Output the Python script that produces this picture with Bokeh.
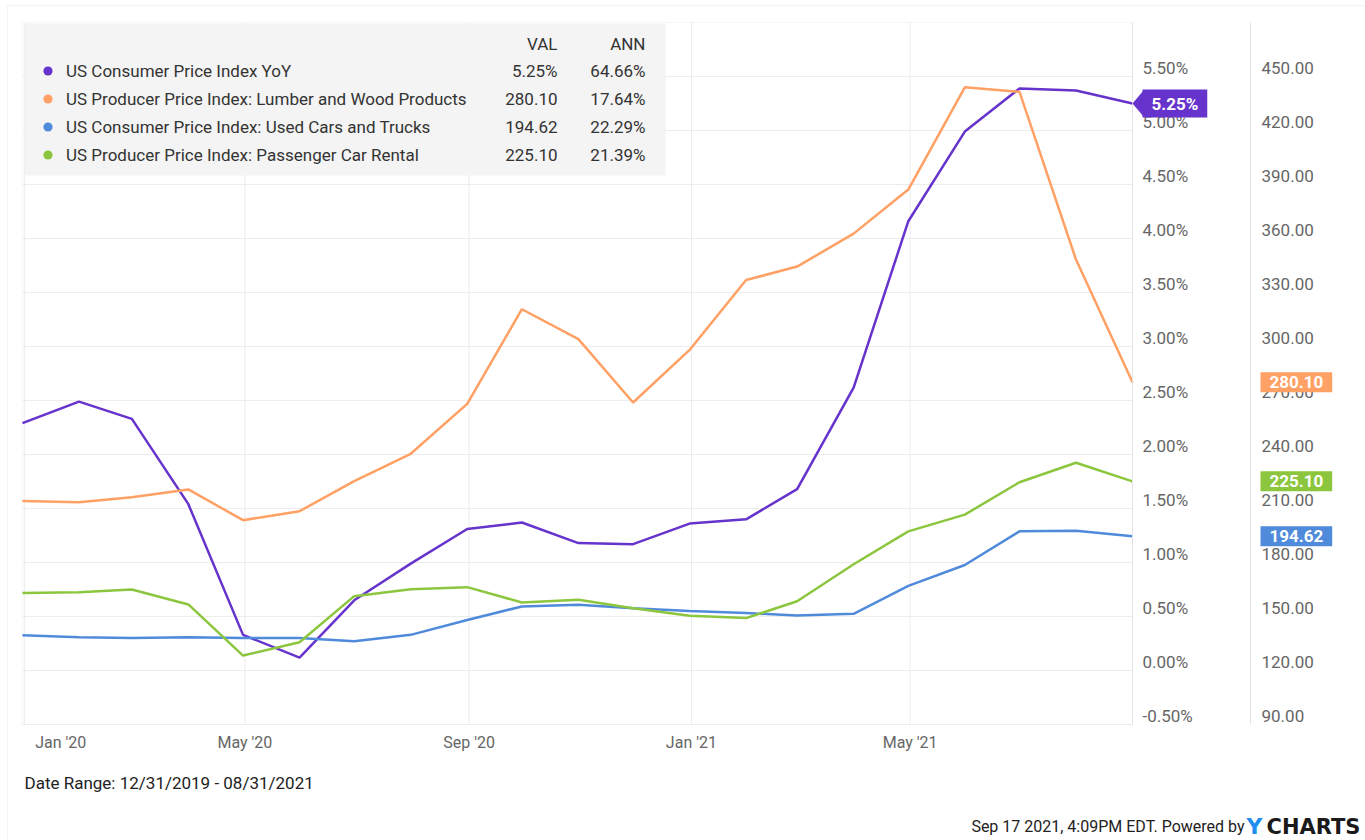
import pandas as pd
from bokeh.plotting import figure
from bokeh.models import (Range1d, LinearAxis, FixedTicker, PrintfTickFormatter, Label,
                          Legend, LegendItem, BoxAnnotation, PolyAnnotation)
from bokeh.embed import file_html
from bokeh.resources import INLINE

# ---------------- data ----------------
dates = pd.date_range("2019-12-31", periods=21, freq=pd.offsets.MonthEnd())

cpi_yoy = [2.29, 2.49, 2.33, 1.54, 0.33, 0.12, 0.65, 0.99, 1.31, 1.37, 1.18, 1.17,
           1.36, 1.40, 1.68, 2.62, 4.16, 4.99, 5.39, 5.37, 5.25]
lumber = [214.1, 213.5, 216.3, 220.6, 203.5, 208.5, 225.2, 240.4, 268.1, 320.7, 304.1, 268.9,
          298.1, 336.9, 344.4, 362.7, 387.2, 444.0, 441.5, 348.3, 280.10]
used_cars = [139.6, 138.5, 138.0, 138.5, 138.0, 138.0, 136.3, 139.8, 148.1, 155.6, 156.5, 154.6,
             153.1, 151.9, 150.6, 151.5, 167.0, 178.6, 197.3, 197.7, 194.62]
car_rental = [163.1, 163.5, 165.0, 156.7, 128.3, 135.7, 161.3, 165.2, 166.3, 157.8, 159.3, 154.6,
              150.4, 149.1, 158.5, 179.0, 197.3, 206.6, 224.6, 235.4, 225.10]

series_names = ["US Consumer Price Index YoY",
                "US Producer Price Index: Lumber and Wood Products",
                "US Consumer Price Index: Used Cars and Trucks",
                "US Producer Price Index: Passenger Car Rental"]
series_ann = ["64.66%", "17.64%", "22.29%", "21.39%"]

pct_ticks = [-0.5, 0.0, 0.5, 1.0, 1.5, 2.0, 2.5, 3.0, 3.5, 4.0, 4.5, 5.0, 5.5]
val_ticks = [90, 120, 150, 180, 210, 240, 270, 300, 330, 360, 390, 420, 450]
x_tick_dates = ["2020-01-01", "2020-05-01", "2020-09-01", "2021-01-01", "2021-05-01"]
x_tick_labels = ["Jan '20", "May '20", "Sep '20", "Jan '21", "May '21"]

date_range_text = "Date Range: 12/31/2019 - 08/31/2021"
stamp_text = "Sep 17 2021, 4:09PM EDT. Powered by"

# ---------------- style / layout (page pixels) ----------------
PURPLE, ORANGE, BLUE, GREEN = "#6633CC", "#FFA064", "#4F8ADB", "#8CC63F"
FONT = "Roboto"
AXIS_GRAY = "#666666"
TEXT_DARK = "#333333"
GRID = "#ececec"
W, H = 1365, 840
PLOT_LEFT, PLOT_TOP = 22, 22             # data area inside the canvas
PLOT_RIGHT, PLOT_BOTTOM = 1132, 724
VAL_AXIS_X = 1250
PCT_RANGE = (-0.5, 6.0)
VAL_RANGE = (90, 480)
LABEL_LIFT = 8.5                          # tick labels sit above their grid line

def sx(px):  # page x -> frame screen x
    return px
def sy(py):  # page y -> frame screen y (from bottom)
    return H - py

def to_ms(t):
    return pd.Timestamp(t).value / 1e6

x0_ms, x1_ms = to_ms(dates[0]), to_ms(dates[-1])
ms_per_px = (x1_ms - x0_ms) / (PLOT_RIGHT - PLOT_LEFT)
x_start_ms = x0_ms - PLOT_LEFT * ms_per_px
x_end_ms = x0_ms + (W - PLOT_LEFT) * ms_per_px
val_axis_ms = x0_ms + (VAL_AXIS_X - PLOT_LEFT) * ms_per_px

plot_h = PLOT_BOTTOM - PLOT_TOP
ppu_pct = plot_h / (PCT_RANGE[1] - PCT_RANGE[0])
ppu_val = plot_h / (VAL_RANGE[1] - VAL_RANGE[0])
below, above = H - PLOT_BOTTOM, PLOT_TOP
pct_full = (PCT_RANGE[0] - below / ppu_pct, PCT_RANGE[1] + above / ppu_pct)
val_full = (VAL_RANGE[0] - below / ppu_val, VAL_RANGE[1] + above / ppu_val)
s_pct, s_val = LABEL_LIFT / ppu_pct, LABEL_LIFT / ppu_val

p = figure(width=W, height=H, x_axis_type="datetime", y_axis_location="right",
           output_backend="svg", toolbar_location=None,
           x_range=Range1d(x_start_ms, x_end_ms), y_range=Range1d(*pct_full),
           min_border_left=0, min_border_top=0, min_border_right=0, min_border_bottom=0)
p.extra_y_ranges = {"val": Range1d(*val_full),
                    "pct_axis": Range1d(pct_full[0] - s_pct, pct_full[1] - s_pct),
                    "val_axis": Range1d(val_full[0] - s_val, val_full[1] - s_val)}
p.outline_line_color = None
p.background_fill_color = "white"
p.border_fill_color = "white"
p.ygrid.visible = False
p.xgrid.visible = False

# card border (top and left edges visible)
p.add_layout(BoxAnnotation(left=7, right=W + 20, top=sy(5), bottom=-20,
                           left_units="screen", right_units="screen",
                           top_units="screen", bottom_units="screen",
                           fill_alpha=0, line_color="#dcdcdc", line_width=1, level="underlay"))

# vertical grid lines (data area only)
grid_ms = [to_ms(d) for d in x_tick_dates]
p.segment(x0=grid_ms, x1=grid_ms, y0=[PCT_RANGE[0]] * len(grid_ms), y1=[PCT_RANGE[1]] * len(grid_ms),
          line_color=GRID, line_width=1)
# horizontal grid lines (data area only)
p.segment(x0=[x0_ms] * len(pct_ticks), x1=[x1_ms] * len(pct_ticks), y0=pct_ticks, y1=pct_ticks,
          line_color=GRID, line_width=1)
# plot-area border
p.add_layout(BoxAnnotation(left=x0_ms, right=x1_ms, bottom=PCT_RANGE[0], top=PCT_RANGE[1],
                           fill_alpha=0, line_color="#e3e3e3", line_width=1, level="underlay"))

# x axis: first label kept inside the plot area, as in the original
x_label_pos = [pd.Timestamp(d) for d in x_tick_dates]
x_label_pos[0] = x_label_pos[0] + pd.Timedelta(days=20)
x_ms = [int(to_ms(t)) for t in x_label_pos]
xa = p.xaxis[0]
xa.fixed_location = PCT_RANGE[0]
xa.ticker = FixedTicker(ticks=x_ms)
xa.major_label_overrides = {m: l for m, l in zip(x_ms, x_tick_labels)}
xa.axis_line_color = None
xa.major_tick_line_color = None
xa.minor_tick_line_color = None
xa.major_tick_out = 0
xa.major_tick_in = 0
xa.major_label_standoff = 8
xa.major_label_text_font = FONT
xa.major_label_text_font_size = "16px"
xa.major_label_text_color = AXIS_GRAY

def style_y(ax, standoff, bounds):
    ax.axis_line_color = "#e3e3e3"
    ax.major_tick_line_color = None
    ax.minor_tick_line_color = None
    ax.major_tick_out = 0
    ax.major_tick_in = 0
    ax.major_label_standoff = standoff
    ax.major_label_text_font = FONT
    ax.major_label_text_font_size = "17px"
    ax.major_label_text_color = AXIS_GRAY
    ax.bounds = bounds

# percent axis at the right edge of the data area
ya = p.yaxis[0]
ya.y_range_name = "pct_axis"
ya.fixed_location = x1_ms
ya.ticker = FixedTicker(ticks=pct_ticks)
ya.formatter = PrintfTickFormatter(format="%.2f%%")
style_y(ya, 10, (PCT_RANGE[0] - s_pct, PCT_RANGE[1] - s_pct))

# value axis
va = LinearAxis(y_range_name="val_axis", ticker=FixedTicker(ticks=val_ticks),
                formatter=PrintfTickFormatter(format="%.2f"))
va.fixed_location = val_axis_ms
style_y(va, 11, (VAL_RANGE[0] - s_val, VAL_RANGE[1] - s_val))
p.add_layout(va, "right")

# ---------------- lines ----------------
specs = [(cpi_yoy, PURPLE, "default"), (lumber, ORANGE, "val"),
         (used_cars, BLUE, "val"), (car_rental, GREEN, "val")]
dot_renderers = []
for vals, col, rng in specs:
    p.line(dates, vals, line_color=col, line_width=2.5, y_range_name=rng)
    dot_renderers.append(p.scatter(dates, vals, size=0, fill_color=col, line_color=None,
                                   y_range_name=rng))

# ---------------- legend table ----------------
p.add_layout(BoxAnnotation(left=sx(24), right=sx(665), top=sy(23), bottom=sy(175),
                           left_units="screen", right_units="screen",
                           top_units="screen", bottom_units="screen",
                           fill_color="#f3f3f3", fill_alpha=0.92, line_color=None))

ROW_H, ROW_GAP = 23, 5
pitch = ROW_H + ROW_GAP
legend_top = sy(59)
legend_h = 4 * ROW_H + 3 * ROW_GAP
legend = Legend(items=[LegendItem(label=n, renderers=[r]) for n, r in zip(series_names, dot_renderers)],
                location=(sx(36), legend_top - legend_h), orientation="vertical",
                glyph_width=ROW_H, glyph_height=ROW_H, label_height=ROW_H, spacing=ROW_GAP,
                label_standoff=7, padding=0, margin=0,
                background_fill_alpha=0, border_line_color=None,
                label_text_font=FONT, label_text_font_size="17px", label_text_color=TEXT_DARK)
p.add_layout(legend)

last_vals = ["%.2f%%" % cpi_yoy[-1], "%.2f" % lumber[-1], "%.2f" % used_cars[-1], "%.2f" % car_rental[-1]]
VAL_X, ANN_X = sx(557), sx(645)
common = dict(x_units="screen", y_units="screen", text_align="right", text_baseline="middle",
              text_font=FONT, text_font_size="17px", text_color=TEXT_DARK)
p.add_layout(Label(x=VAL_X, y=sy(43), text="VAL", **common))
p.add_layout(Label(x=ANN_X, y=sy(43), text="ANN", **common))
for i in range(4):
    yc = legend_top - (i * pitch + ROW_H / 2)
    p.add_layout(Label(x=VAL_X, y=yc, text=last_vals[i], **common))
    p.add_layout(Label(x=ANN_X, y=yc, text=series_ann[i], **common))

# ---------------- value flags ----------------
flag_specs = [(cpi_yoy[-1], PURPLE, "default", last_vals[0], PLOT_RIGHT, ppu_pct),
              (lumber[-1], ORANGE, "val", last_vals[1], VAL_AXIS_X, ppu_val),
              (car_rental[-1], GREEN, "val", last_vals[3], VAL_AXIS_X, ppu_val),
              (used_cars[-1], BLUE, "val", last_vals[2], VAL_AXIS_X, ppu_val)]
for v, col, rng, txt, tip_px, ppu in flag_specs:
    half = 13 / ppu
    p.add_layout(PolyAnnotation(xs=[sx(tip_px), sx(tip_px) + 11, sx(tip_px) + 11],
                                ys=[v, v + half, v - half],
                                xs_units="screen", ys_units="data", y_range_name=rng,
                                fill_color=col, fill_alpha=1, line_color=None))
    p.add_layout(Label(x=x1_ms, y=v, x_offset=tip_px - PLOT_RIGHT + 10, y_range_name=rng, text=txt,
                       text_align="left", text_baseline="middle", text_font=FONT,
                       text_font_size="17px", text_font_style="bold", text_color="white",
                       background_fill_color=col, padding=(9, 4)))

# ---------------- footer ----------------
foot = dict(x_units="screen", y_units="screen", text_baseline="middle")
p.add_layout(Label(x=sx(24), y=sy(782), text=date_range_text, text_font=FONT,
                   text_font_size="17px", text_color="#222222", **foot))
p.add_layout(Label(x=sx(1244), y=sy(826), text=stamp_text, text_align="right", text_font=FONT,
                   text_font_size="16px", text_color="#222222", **foot))
p.add_layout(Label(x=sx(1246), y=sy(826), text="Y", text_font="DejaVu Sans",
                   text_font_size="22px", text_font_style="bold", text_color="#1E8FF0", **foot))
p.add_layout(Label(x=sx(1266), y=sy(826), text="CHARTS", text_font="DejaVu Sans",
                   text_font_size="21px", text_font_style="bold", text_color="#1a1a1a", **foot))

open("out.html", "w").write(file_html(p, INLINE))
